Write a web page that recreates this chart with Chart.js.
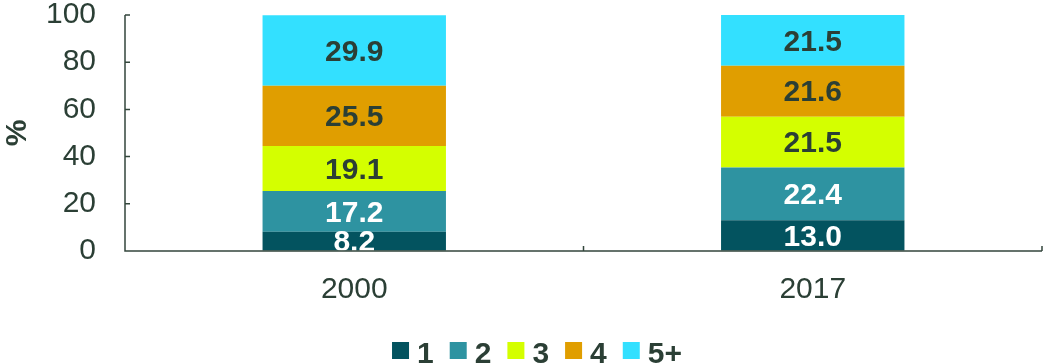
<!DOCTYPE html>
<html>
<head>
<meta charset="utf-8">
<script src="https://cdn.jsdelivr.net/npm/chart.js@4/dist/chart.umd.min.js"></script>
<style>
  html, body { margin: 0; padding: 0; background: #fff; }
  #wrap { width: 1046px; height: 364px; }
</style>
</head>
<body>
<div id="wrap"><canvas id="sizeChart" width="1046" height="364"></canvas></div>
<script>
// Household size shares, %
const years = ['2000', '2017'];
const size1 = [8.2, 13.0];
const size2 = [17.2, 22.4];
const size3 = [19.1, 21.5];
const size4 = [25.5, 21.6];
const size5plus = [29.9, 21.5];
const seriesNames = ['1', '2', '3', '4', '5+'];

const textColor = '#2b3f35';
const axisColor = '#33463c';
const fontFamily = '"Liberation Sans", Arial, sans-serif';

const fills = ['#03535f', '#2e93a1', '#d4ff00', '#e09e00', '#33e0ff'];
const labelColors = ['#ffffff', '#ffffff', textColor, textColor, textColor];
const values = [size1, size2, size3, size4, size5plus];

// value labels drawn in the middle of each segment, clipped to the plot
const segmentLabels = {
    id: 'segmentLabels',
    afterDatasetsDraw(chart) {
        const ctx = chart.ctx;
        const area = chart.chartArea;
        ctx.save();
        ctx.beginPath();
        ctx.rect(area.left, area.top, area.right - area.left, area.bottom - area.top);
        ctx.clip();
        ctx.font = 'bold 30px ' + fontFamily;
        ctx.textAlign = 'center';
        ctx.textBaseline = 'middle';
        chart.data.datasets.forEach((ds, i) => {
            chart.getDatasetMeta(i).data.forEach((bar, j) => {
                const mid = (bar.y + bar.base) / 2;
                ctx.fillStyle = labelColors[i];
                ctx.fillText(ds.data[j].toFixed(1), bar.x, mid + 2);
            });
        });
        ctx.restore();
    }
};

// axis lines with short inward tick marks
const axisMarks = {
    id: 'axisMarks',
    afterDraw(chart) {
        const ctx = chart.ctx;
        const area = chart.chartArea;
        const y = chart.scales.y;
        ctx.save();
        ctx.strokeStyle = axisColor;
        ctx.lineWidth = 1.5;
        ctx.beginPath();
        ctx.moveTo(area.left, area.top);
        ctx.lineTo(area.left, area.bottom);
        ctx.lineTo(area.right, area.bottom);
        y.ticks.forEach(t => {
            const py = y.getPixelForValue(t.value);
            ctx.moveTo(area.left, py);
            ctx.lineTo(area.left + 5, py);
        });
        const mid = (area.left + area.right) / 2;
        ctx.moveTo(mid, area.bottom);
        ctx.lineTo(mid, area.bottom - 5);
        ctx.moveTo(area.right, area.bottom);
        ctx.lineTo(area.right, area.bottom - 5);
        ctx.stroke();
        ctx.restore();
    }
};

// legend row under the axis: square swatch + bold series name
const bottomLegend = {
    id: 'bottomLegend',
    afterDraw(chart) {
        const ctx = chart.ctx;
        const box = 17, gap = 8, spacing = 16;
        ctx.save();
        ctx.font = 'bold 30px ' + fontFamily;
        ctx.textBaseline = 'alphabetic';
        ctx.textAlign = 'left';
        const widths = seriesNames.map(n => ctx.measureText(n).width);
        const total = widths.reduce((s, w) => s + box + gap + w, 0) + spacing * (seriesNames.length - 1);
        let x = chart.width / 2 + 14 - total / 2;
        const boxTop = 342;
        seriesNames.forEach((name, i) => {
            ctx.fillStyle = fills[i];
            ctx.fillRect(x, boxTop, box, box);
            ctx.fillStyle = textColor;
            ctx.fillText(name, x + box + gap, 363);
            x += box + gap + widths[i] + spacing;
        });
        ctx.restore();
    }
};

const ctx = document.getElementById('sizeChart').getContext('2d');
new Chart(ctx, {
    type: 'bar',
    data: {
        labels: years,
        datasets: values.map((v, i) => ({
            label: seriesNames[i],
            data: v,
            backgroundColor: fills[i],
            borderWidth: 0,
            barPercentage: 0.4,
            categoryPercentage: 1.0
        }))
    },
    options: {
        responsive: false,
        animation: false,
        layout: { padding: { top: 0, right: 4, left: 0, bottom: 53 } },
        scales: {
            x: {
                stacked: true,
                grid: { display: false, drawTicks: false },
                border: { display: false },
                ticks: {
                    color: textColor,
                    padding: 21,
                    font: { family: fontFamily, size: 30 }
                },
                afterFit(scale) { scale.height = 60; }
            },
            y: {
                stacked: true,
                min: 0,
                max: 100,
                // invisible tick marks keep the labels off the axis
                grid: {
                    display: true,
                    drawOnChartArea: false,
                    drawTicks: true,
                    tickLength: 29,
                    tickColor: 'rgba(0,0,0,0)'
                },
                border: { display: false },
                ticks: {
                    stepSize: 20,
                    color: textColor,
                    padding: 0,
                    font: { family: fontFamily, size: 30, lineHeight: 1.0 }
                },
                title: {
                    display: true,
                    text: '%',
                    color: textColor,
                    padding: 0,
                    font: { family: fontFamily, size: 30, weight: 'bold' }
                },
                afterFit(scale) { scale.width = 125; }
            }
        },
        plugins: {
            legend: { display: false },
            tooltip: { enabled: false }
        }
    },
    plugins: [segmentLabels, axisMarks, bottomLegend]
});
</script>
</body>
</html>
